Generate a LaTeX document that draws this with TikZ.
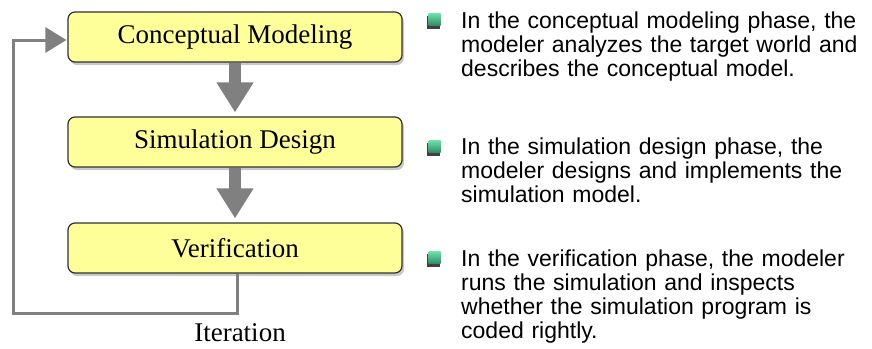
\documentclass[tikz,border=0pt]{standalone}
\usepackage{fontspec}
\setmainfont{Liberation Serif}
\newfontfamily\textsans{Liberation Sans}
\usetikzlibrary{arrows.meta,shadows,calc}
\definecolor{boxfill}{HTML}{FFFF99}
\definecolor{boxline}{HTML}{303030}
\definecolor{flowgray}{HTML}{808080}
\definecolor{bulletlight}{HTML}{6FE0A8}
\definecolor{bulletdark}{HTML}{2E8A66}
\tikzset{
  phase/.style={draw=boxline, line width=1.2pt, fill=boxfill, rounded corners=7pt,
    minimum width=334pt, minimum height=50pt, inner sep=0pt,
    font=\fontsize{27}{30}\selectfont,
    drop shadow={shadow xshift=2pt, shadow yshift=-3pt, fill=black!35, opacity=0.6}},
  flow/.style={draw=flowgray, line width=12pt,
    -{Triangle[width=35pt, length=30pt]}},
  loopline/.style={draw=flowgray, line width=3pt,
    -{Triangle[width=25pt, length=21pt]}},
  desc/.style={anchor=north west, inner sep=0pt, text width=410pt, align=left,
    font=\textsans\fontsize{23}{24}\selectfont},
  label/.style={font=\fontsize{27}{30}\selectfont, inner sep=0pt}
}
\newcommand{\phasebullet}[1]{%
  \fill[black!75] ($(#1)+(-7.5,-5.5)$) rectangle ($(#1)+(5.5,7.5)$);
  \shade[top color=bulletlight, bottom color=bulletdark]
    ($(#1)+(-5.5,-7.5)$) rectangle ($(#1)+(6.5,4.5)$);
}
\begin{document}
\begin{tikzpicture}[x=1pt, y=-1pt]
  \useasboundingbox (0,0) rectangle (872,348);
  \fill[white] (0,0) rectangle (872,348);

  % the three phases
  \node[phase] (cm) at (235,37) {Conceptual Modeling};
  \node[phase] (sd) at (235,142) {Simulation Design};
  \node[phase] (ve) at (235,248) {Verification};

  % forward flow between the phases
  \draw[flow] (cm.south) -- ($(sd.north)+(0,-4)$);
  \draw[flow] (sd.south) -- ($(ve.north)+(0,-4)$);

  % iteration loop back to the first phase
  \coordinate (loopbr) at (237,313);
  \coordinate (looptl) at (13,40);
  \draw[loopline] (ve.south -| loopbr) -- (loopbr) -- (loopbr -| looptl)
    -- (looptl) -- ($(cm.west |- looptl)+(-1,0)$);
  \node[label] (it) at (240,333) {Iteration};

  % phase descriptions
  \phasebullet{434,21}
  \node[desc] (d1) at (461,12) {In the conceptual modeling phase, the\\
    modeler analyzes the target world and\\ describes the conceptual model.};
  \phasebullet{434,148}
  \node[desc] (d2) at (461,138) {In the simulation design phase, the\\
    modeler designs and implements the\\ simulation model.};
  \phasebullet{434,259}
  \node[desc] (d3) at (461,250) {In the verification phase, the modeler\\
    runs the simulation and inspects\\ whether the simulation program is\\ coded rightly.};
\end{tikzpicture}
\end{document}
